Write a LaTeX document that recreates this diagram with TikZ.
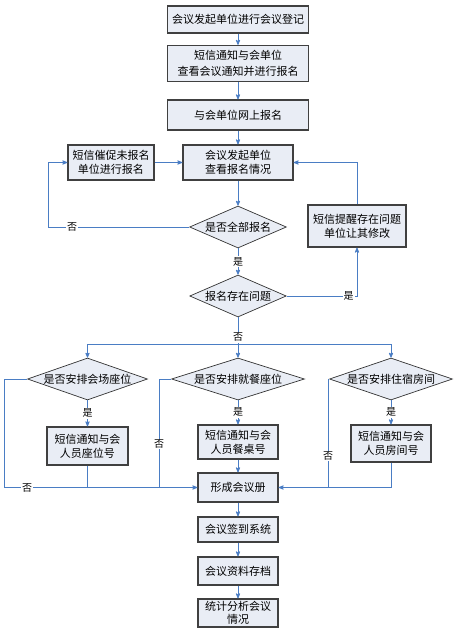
\documentclass[tikz,border=0pt]{standalone}
\usepackage{fontspec}
\setmainfont{Noto Sans CJK SC}
\usetikzlibrary{
	arrows,
	positioning,
	shapes.geometric
}
\definecolor{boxfill}{HTML}{E9EDF5}
\definecolor{flowblue}{HTML}{4A7DC4}

\begin{document}
\begin{tikzpicture}[x=1pt,y=-1pt,>=stealth',
        font=\fontsize{11}{14}\selectfont,
        box node/.style={rectangle,draw=black!75,line width=1.3pt,fill=boxfill,inner sep=0pt,align=center},
        dec node/.style={diamond,draw=black!80,line width=0.7pt,fill=boxfill,inner sep=0pt,aspect=3,minimum height=42pt},
        flow/.style={draw=flowblue,line width=0.8pt},
        tag/.style={fill=white,inner sep=1pt,font=\fontsize{10}{12}\selectfont}]
        \useasboundingbox (0,0) rectangle (455,630);
        \node[box node,minimum width=141pt,minimum height=27pt] (reg) at (238,19.5) {会议发起单位进行会议登记};
        \node[box node,minimum width=141pt,minimum height=36pt,font=\fontsize{11}{16}\selectfont] (notice) at (238,63.5) {短信通知与会单位\\查看会议通知并进行报名};
        \node[box node,minimum width=141pt,minimum height=30pt] (online) at (238,115) {与会单位网上报名};
        \node[box node,minimum width=110pt,minimum height=35pt] (check) at (238,162.5) {会议发起单位\\查看报名情况};
        \node[box node,minimum width=86pt,minimum height=35pt] (urge) at (111,162.5) {短信催促未报名\\单位进行报名};
        \node[dec node,minimum width=93pt] (all) at (238,227) {是否全部报名};
        \node[box node,minimum width=98pt,minimum height=42pt] (fix) at (357,226) {短信提醒存在问题\\单位让其修改};
        \node[dec node,minimum width=93pt] (prob) at (238,296) {报名存在问题};
        \node[dec node,minimum width=120pt] (seat) at (87.5,379) {是否安排会场座位};
        \node[dec node,minimum width=133pt] (meal) at (238,379) {是否安排就餐座位};
        \node[dec node,minimum width=123pt] (room) at (391,379) {是否安排住宿房间};
        \node[box node,minimum width=81pt,minimum height=38pt] (seatno) at (87.5,446) {短信通知与会\\人员座位号};
        \node[box node,minimum width=80pt,minimum height=34pt] (tableno) at (238,442) {短信通知与会\\人员餐桌号};
        \node[box node,minimum width=80pt,minimum height=37pt] (roomno) at (391,443.5) {短信通知与会\\人员房间号};
        \node[box node,minimum width=80pt,minimum height=29pt] (book) at (238,487.5) {形成会议册};
        \node[box node,minimum width=80pt,minimum height=25pt] (sign) at (238,529.5) {会议签到系统};
        \node[box node,minimum width=80pt,minimum height=28pt] (archive) at (238,571) {会议资料存档};
        \node[box node,minimum width=80pt,minimum height=28pt,font=\fontsize{11}{13}\selectfont] (stat) at (238,613) {统计分析会议\\情况};

        \coordinate (allL) at (48,227);
        \coordinate (split) at (238,344);
        \coordinate (seatL) at (4,379);
        \coordinate (mealL) at (159,379);
        \coordinate (mealB) at (159,487.5);
        \coordinate (roomL) at (328,379);
        \coordinate (roomB) at (328,487.5);

          \draw[flow,->] (reg) -- (notice);
          \draw[flow,->] (notice) -- (online);
          \draw[flow,->] (online) -- (check);
          \draw[flow,->] (check) -- (all);
          \draw[flow,->] (all.west) -- node[tag,pos=0.83] (no1) {否} (allL) |- (urge.west);
          \draw[flow,->] (urge) -- (check);
          \draw[flow,->] (all) -- node[tag] (yes1) {是} (prob);
          \draw[flow,->] (prob.east) -| node[tag,pos=0.44] (yes2) {是} (fix.south);
          \draw[flow,->] (fix.north) |- (check.east);

          \draw[flow] (prob) -- node[tag,pos=0.75] (no2) {否} (split);
          \draw[flow,->] (split) -| (seat.north);
          \draw[flow,->] (split) -- (meal.north);
          \draw[flow,->] (split) -| (room.north);

          \draw[flow,->] (seat) -- node[tag] (yes3) {是} (seatno);
          \draw[flow,->] (meal) -- node[tag] (yes4) {是} (tableno);
          \draw[flow,->] (room) -- node[tag] (yes5) {是} (roomno);

          \draw[flow,->] (seat.west) -- (seatL) |- node[tag,pos=0.56] (no3) {否} (book.west);
          \draw[flow] (seatno.south) -- (seatno.south |- book.west);
          \draw[flow] (meal.west) -- (mealL) -- node[tag,pos=0.6] (no4) {否} (mealB);
          \draw[flow,->] (tableno) -- (book);
          \draw[flow,->] (room.west) -- (roomL) -- node[tag,pos=0.71] (no5) {否} (roomB) -- (book.east);
          \draw[flow] (roomno.south) |- (roomB);

          \draw[flow,->] (book) -- (sign);
          \draw[flow,->] (sign) -- (archive);
          \draw[flow,->] (archive) -- (stat);

      \end{tikzpicture}
\end{document}
